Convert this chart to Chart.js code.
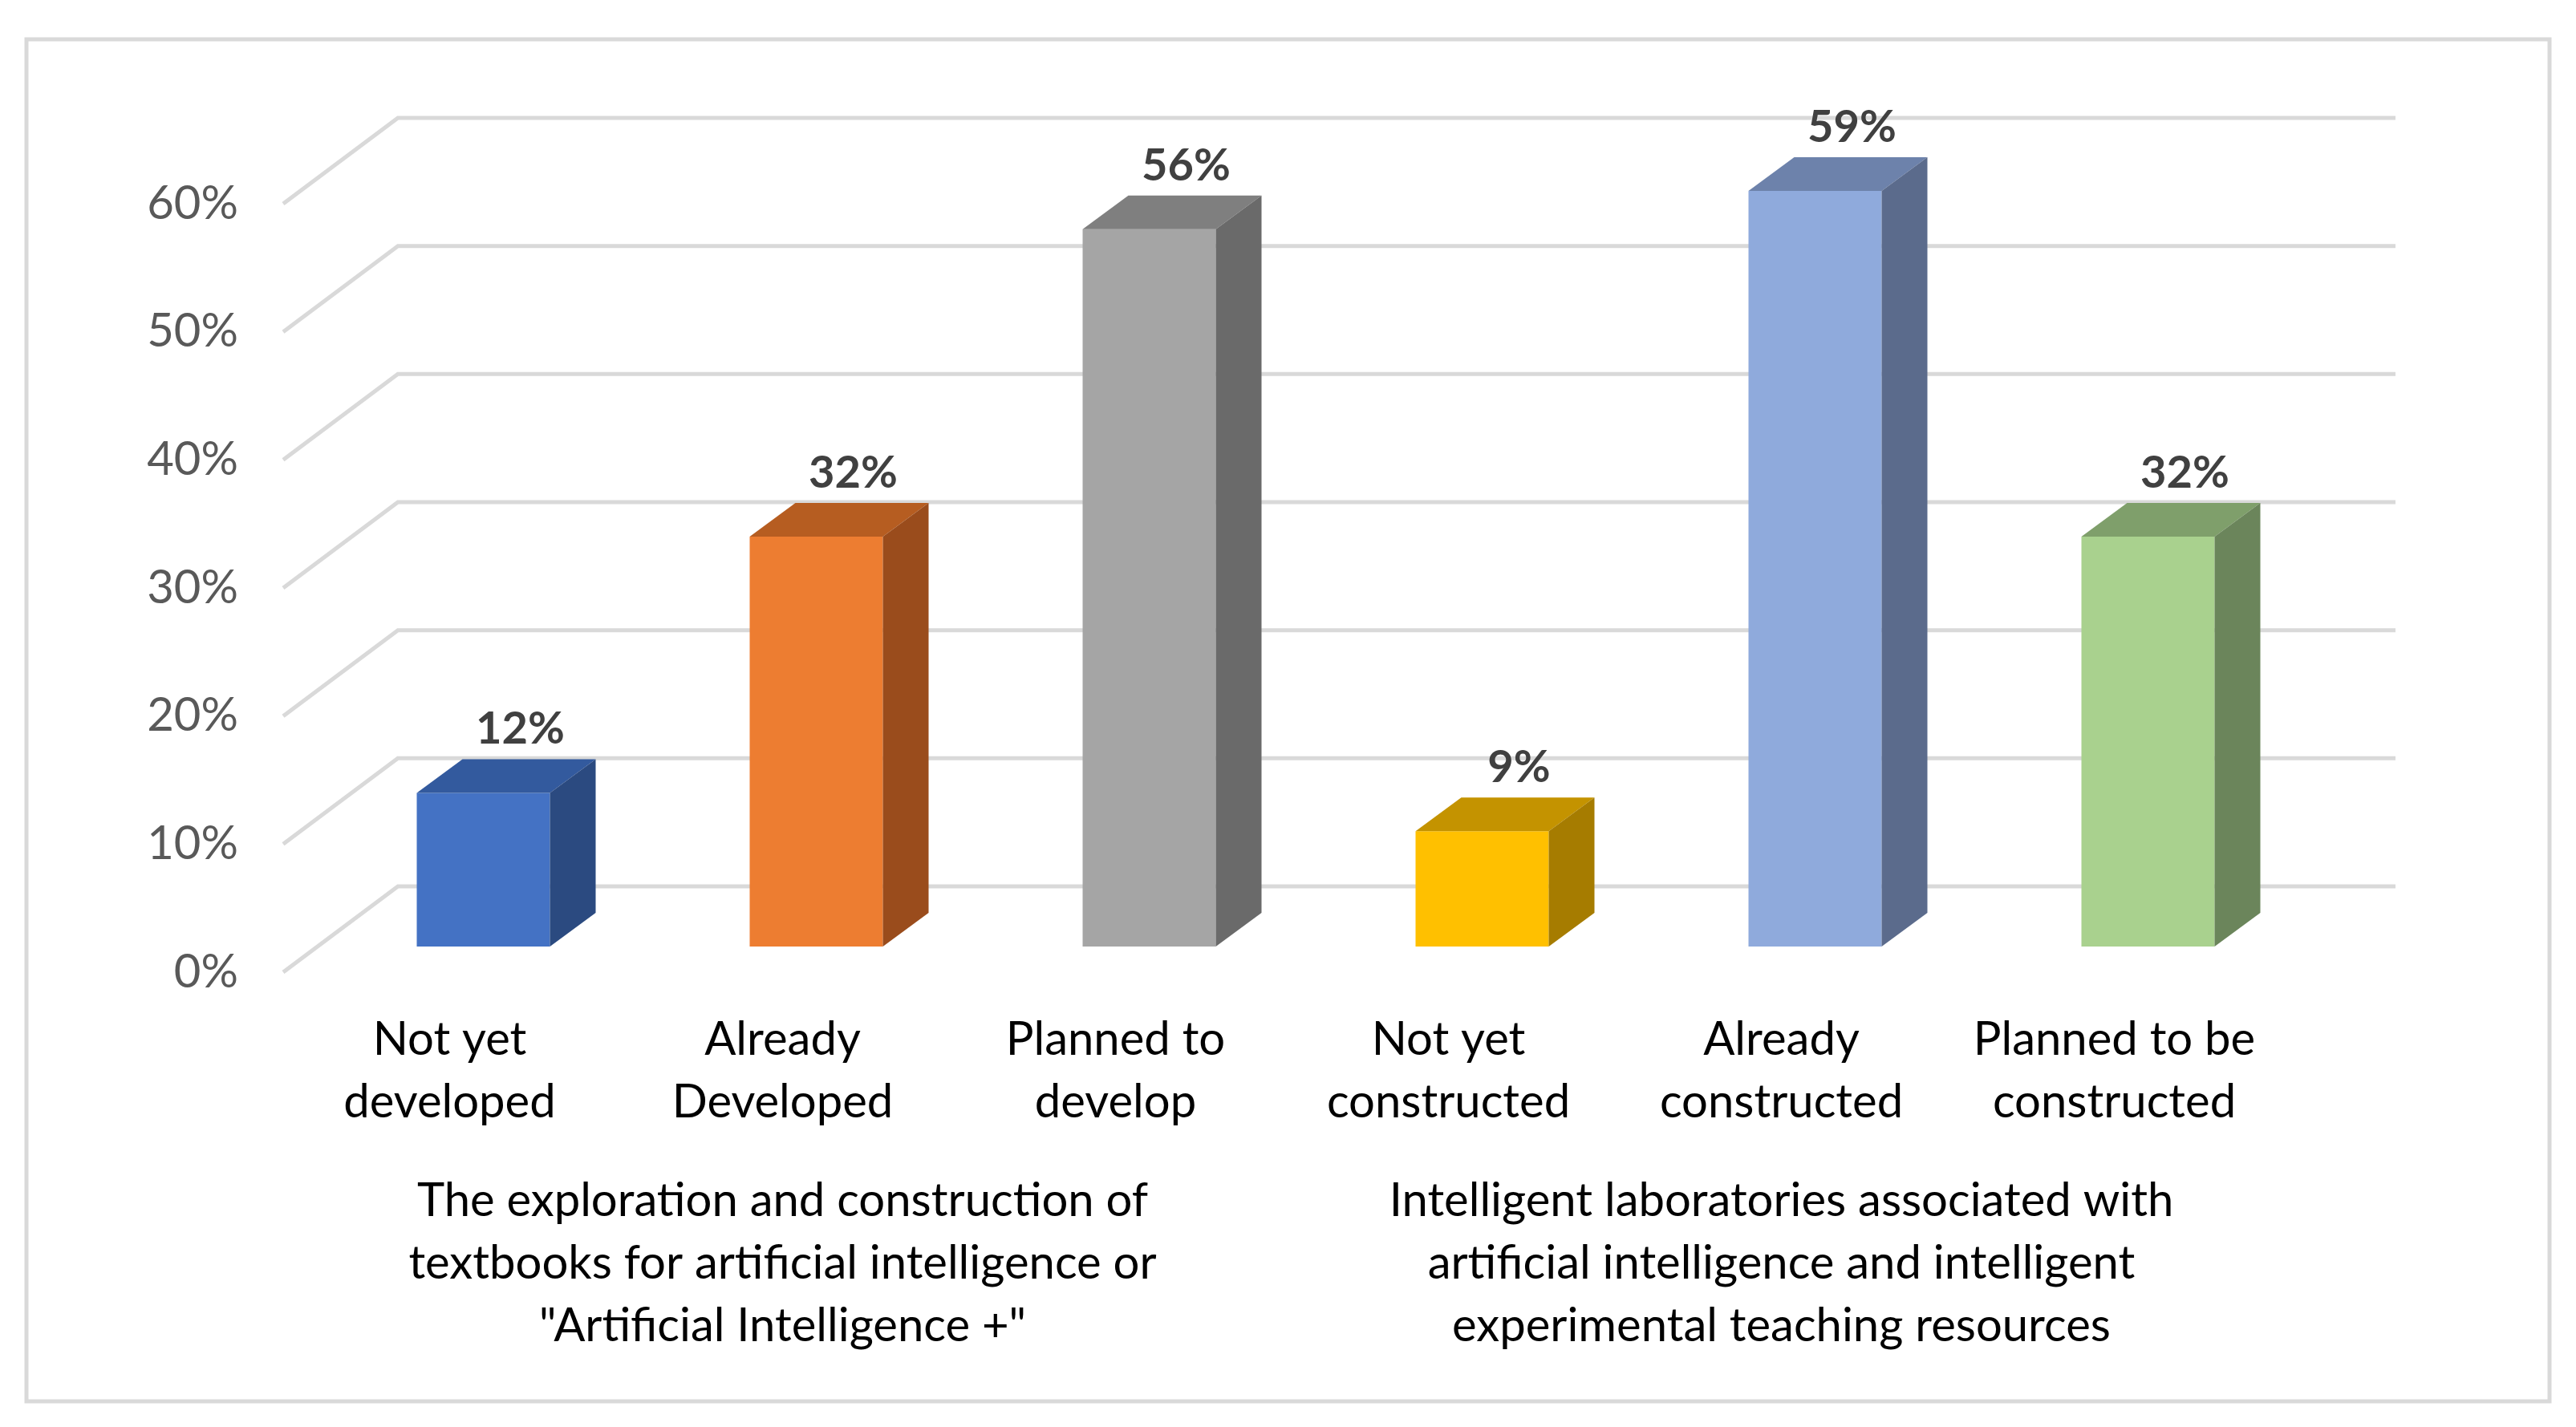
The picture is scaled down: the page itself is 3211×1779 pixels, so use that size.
<!DOCTYPE html>
<html>
<head>
<meta charset="utf-8">
<script src="https://cdn.jsdelivr.net/npm/chart.js@4.4.0/dist/chart.umd.min.js"></script>
<style>
  html, body { margin: 0; padding: 0; background: #fff; }
  canvas { display: block; }
</style>
</head>
<body>
<canvas id="aiChart" width="3211" height="1779"></canvas>
<script>
const categories = [
	["Not yet", "developed"],
	["Already", "Developed"],
	["Planned to", "develop"],
	["Not yet", "constructed"],
	["Already", "constructed"],
	["Planned to be", "constructed"],
];
const groups = [
	["The exploration and construction of", "textbooks for artificial intelligence or", "\"Artificial Intelligence +\""],
	["Intelligent laboratories associated with", "artificial intelligence and intelligent", "experimental teaching resources"],
];
const values = [0.12, 0.32, 0.56, 0.09, 0.59, 0.32];
const valueLabels = ["12%", "32%", "56%", "9%", "59%", "32%"];
const yTicks = [0, 0.1, 0.2, 0.3, 0.4, 0.5, 0.6];

const frontColors = ["#4472C4", "#ED7D31", "#A5A5A5", "#FFC000", "#8FAADC", "#A9D18E"];
const topColors = ["#335A9E", "#B65D21", "#7F7F7F", "#C49300", "#6D82AB", "#7F9F6B"];
const sideColors = ["#2B4A80", "#9A4C1C", "#6A6A6A", "#A67C00", "#5B6B8C", "#6B855B"];

// 3d projection offsets (px)
const back = { dx: 143, dy: -107 };
const barPlane = { dx: 42, dy: -32 };
const depth = { dx: 57, dy: -42 };
const gridColor = "#D9D9D9";
const font = "Lato";

const frame3d = {
	id: "frame3d",
	beforeDraw(chart) {
		const c = chart.ctx;
		const area = chart.chartArea;
		const y = chart.scales.y;
		c.save();
		c.fillStyle = "#fff";
		c.fillRect(0, 0, chart.width, chart.height);
		c.strokeStyle = gridColor;
		c.lineWidth = 5;
		c.strokeRect(33, 49, 3145, 1698);
		c.beginPath();
		yTicks.forEach((t) => {
			const py = y.getPixelForValue(t);
			c.moveTo(area.left, py);
			c.lineTo(area.left + back.dx, py + back.dy);
			c.lineTo(area.right + back.dx, py + back.dy);
		});
		c.stroke();
		c.restore();
	},
	beforeDatasetsDraw(chart) {
		chart.ctx.save();
		chart.ctx.translate(barPlane.dx, barPlane.dy);
	},
	afterDatasetsDraw(chart) {
		const c = chart.ctx;
		const bars = chart.getDatasetMeta(0).data;
		bars.forEach((bar, i) => {
			const l = bar.x - bar.width / 2;
			const r = bar.x + bar.width / 2;
			const t = bar.y;
			const b = bar.base;
			// top face
			c.fillStyle = topColors[i];
			c.beginPath();
			c.moveTo(l, t);
			c.lineTo(l + depth.dx, t + depth.dy);
			c.lineTo(r + depth.dx, t + depth.dy);
			c.lineTo(r, t);
			c.closePath();
			c.fill();
			// side face
			c.fillStyle = sideColors[i];
			c.beginPath();
			c.moveTo(r, t);
			c.lineTo(r + depth.dx, t + depth.dy);
			c.lineTo(r + depth.dx, b + depth.dy);
			c.lineTo(r, b);
			c.closePath();
			c.fill();
			// value label
			c.fillStyle = "#404040";
			c.font = "bold 56px " + font;
			c.textAlign = "center";
			c.textBaseline = "middle";
			c.fillText(valueLabels[i], bar.x + 46, t - 79);
		});
		c.restore();
	},
};

new Chart(document.getElementById("aiChart"), {
	type: "bar",
	data: {
		labels: categories,
		datasets: [
			{
				data: values,
				backgroundColor: frontColors,
				borderWidth: 0,
				categoryPercentage: 1,
				barPercentage: 0.4,
			},
		],
	},
	options: {
		responsive: false,
		animation: false,
		devicePixelRatio: 1,
		layout: { padding: { left: 0, right: 368, top: 254, bottom: 32 } },
		plugins: { legend: { display: false }, tooltip: { enabled: false } },
		scales: {
			y: {
				min: 0,
				max: 0.6,
				afterBuildTicks(scale) {
					scale.ticks = yTicks.map((v) => ({ value: v }));
				},
				afterFit(scale) {
					scale.width = 353;
				},
				grid: { display: false, drawTicks: false },
				border: { display: false },
				ticks: {
					padding: 56,
					color: "#595959",
					font: { family: font, size: 58 },
					callback: (v) => Math.round(v * 100) + "%",
				},
			},
			x: {
				weight: 0,
				afterFit(scale) {
					scale.height = 230;
				},
				grid: { display: false, drawTicks: false },
				border: { display: false },
				ticks: {
					padding: 45,
					color: "#000",
					maxRotation: 0,
					minRotation: 0,
					autoSkip: false,
					font: { family: font, size: 58, lineHeight: 1.345 },
				},
			},
			x2: {
				type: "category",
				position: "bottom",
				labels: groups,
				offset: true,
				weight: 1,
				afterFit(scale) {
					scale.height = 305;
				},
				grid: { display: false, drawTicks: false },
				border: { display: false },
				ticks: {
					padding: 16,
					color: "#000",
					maxRotation: 0,
					minRotation: 0,
					autoSkip: false,
					font: { family: font, size: 58, lineHeight: 1.345 },
				},
			},
		},
	},
	plugins: [frame3d],
});
</script>
</body>
</html>
